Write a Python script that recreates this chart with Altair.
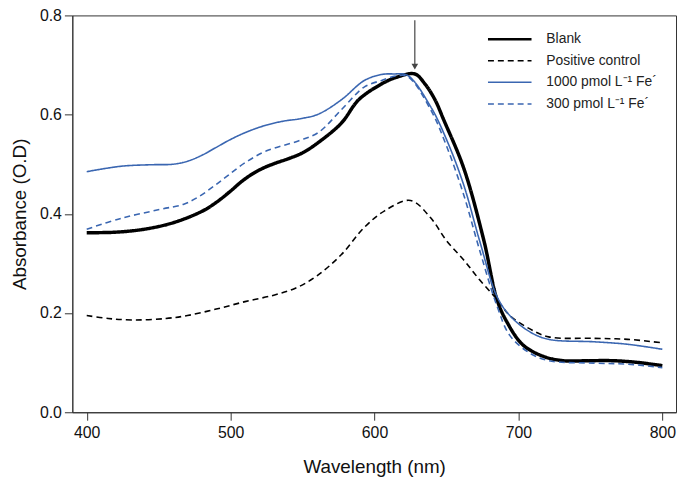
import altair as alt
import pandas as pd

series_names = ["Blank", "Positive control", "1000 pmol L⁻¹ Fe´", "300 pmol L⁻¹ Fe´"]
series_colors = ["#000000", "#000000", "#3a66b1", "#3a66b1"]

blank_wl = [400, 420, 440, 460, 480, 490, 500, 508, 516, 524, 532, 540, 550, 561, 577, 589, 605, 615, 628, 635, 642, 648, 662, 676, 685, 692, 703, 717, 731, 750, 765, 781, 800]
blank_abs = [0.362, 0.363, 0.369, 0.382, 0.405, 0.423, 0.446, 0.466, 0.482, 0.494, 0.503, 0.511, 0.523, 0.544, 0.583, 0.630, 0.662, 0.675, 0.682, 0.662, 0.630, 0.590, 0.492, 0.346, 0.228, 0.182, 0.136, 0.113, 0.104, 0.104, 0.104, 0.101, 0.094]

pos_wl = [400, 415, 433, 455, 470, 490, 510, 530, 545, 560, 577, 593, 607, 625, 639, 650, 662, 673, 685, 694, 708, 721, 753, 776, 800]
pos_abs = [0.195, 0.189, 0.186, 0.189, 0.195, 0.208, 0.223, 0.236, 0.250, 0.275, 0.318, 0.373, 0.406, 0.427, 0.392, 0.346, 0.307, 0.267, 0.228, 0.195, 0.168, 0.152, 0.149, 0.147, 0.140]

fe1000_wl = [400, 424, 445, 460, 470, 480, 490, 500, 512, 525, 537, 549, 561, 577, 593, 605, 613, 623, 639, 650, 662, 673, 685, 694, 708, 721, 753, 776, 800]
fe1000_abs = [0.485, 0.496, 0.499, 0.500, 0.506, 0.518, 0.534, 0.550, 0.566, 0.579, 0.587, 0.592, 0.601, 0.630, 0.669, 0.681, 0.682, 0.679, 0.616, 0.550, 0.458, 0.346, 0.234, 0.195, 0.162, 0.147, 0.142, 0.137, 0.127]

fe300_wl = [400, 424, 451, 467, 477, 488, 498, 510, 525, 547, 561, 577, 593, 605, 615, 623, 639, 650, 662, 673, 685, 694, 708, 721, 753, 776, 800]
fe300_abs = [0.369, 0.391, 0.409, 0.419, 0.433, 0.455, 0.477, 0.503, 0.527, 0.547, 0.564, 0.610, 0.656, 0.669, 0.678, 0.677, 0.610, 0.537, 0.438, 0.327, 0.215, 0.155, 0.119, 0.104, 0.099, 0.097, 0.090]

arrow_wl = [628]
arrow_top = [0.79]
arrow_tip = [0.697]

x_ticks = [400, 500, 600, 700, 800]
y_ticks = [0.0, 0.2, 0.4, 0.6, 0.8]

rows = []
for name, wls, vals in zip(series_names,
                           [blank_wl, pos_wl, fe1000_wl, fe300_wl],
                           [blank_abs, pos_abs, fe1000_abs, fe300_abs]):
    for w, a in zip(wls, vals):
        rows.append({"series": name, "wl": w, "abs": a})
df = pd.DataFrame(rows)

legend_df = pd.DataFrame({"series": series_names, "idx": list(range(len(series_names)))})
arrow_df = pd.DataFrame({"wl": arrow_wl, "top": arrow_top, "tip": arrow_tip})

FONT = "Liberation Sans"

color_scale = alt.Scale(domain=series_names, range=series_colors)
dash_scale = alt.Scale(type="ordinal", domain=series_names, range=[[1, 0], [6, 4], [1, 0], [6, 4]])
width_scale = alt.Scale(type="ordinal", domain=series_names, range=[3.5, 1.6, 1.6, 1.6])
leg_width_scale = alt.Scale(type="ordinal", domain=series_names, range=[2.6, 1.5, 1.5, 1.5])

xscale = alt.Scale(domain=[390, 809.5], nice=False, zero=False)
yscale = alt.Scale(domain=[0, 0.8], nice=False)

lines = alt.Chart(df).mark_line(interpolate="catmull-rom").encode(
    x=alt.X("wl:Q", scale=xscale,
            axis=alt.Axis(values=x_ticks, title="Wavelength (nm)", grid=False,
                          labelFontSize=16, titleFontSize=19, titlePadding=17,
                          tickSize=8, labelPadding=5, format="d")),
    y=alt.Y("abs:Q", scale=yscale,
            axis=alt.Axis(values=y_ticks, title="Absorbance (O.D)", grid=False,
                          labelFontSize=16, titleFontSize=19, titlePadding=10,
                          tickSize=8, labelPadding=3, format=".1f")),
    color=alt.Color("series:N", scale=color_scale, legend=None),
    strokeDash=alt.StrokeDash("series:N", scale=dash_scale, legend=None),
    strokeWidth=alt.StrokeWidth("series:N", scale=width_scale, legend=None),
    detail="series:N",
)

leg_rules = alt.Chart(legend_df).transform_calculate(
    ly="24 + 21.8 * datum.idx"
).mark_rule().encode(
    x=alt.value(420), x2=alt.value(464),
    y=alt.Y("ly:Q", scale=None, axis=None),
    color=alt.Color("series:N", scale=color_scale, legend=None),
    strokeDash=alt.StrokeDash("series:N", scale=dash_scale, legend=None),
    strokeWidth=alt.StrokeWidth("series:N", scale=leg_width_scale, legend=None),
)

leg_text = alt.Chart(legend_df).transform_calculate(
    ly="24 + 21.8 * datum.idx"
).mark_text(align="left", baseline="middle", fontSize=14, font=FONT, color="#222222").encode(
    x=alt.value(479),
    y=alt.Y("ly:Q", scale=None, axis=None),
    text="series:N",
)

arrow_rule = alt.Chart(arrow_df).mark_rule(color="#444444", strokeWidth=1.2).encode(
    x=alt.X("wl:Q", scale=xscale),
    y=alt.Y("top:Q", scale=yscale),
    y2="tip:Q",
)
arrow_head = alt.Chart(arrow_df).mark_point(shape="triangle-down", filled=True, size=45,
                                            color="#444444", opacity=1).encode(
    x=alt.X("wl:Q", scale=xscale),
    y=alt.Y("tip:Q", scale=yscale),
)

chart = alt.layer(lines, arrow_rule, arrow_head, leg_rules, leg_text).resolve_scale(
    strokeWidth="independent"
).properties(
    width=610, height=401,
    autosize=alt.AutoSizeParams(type="none"),
    padding={"left": 65, "top": 5, "right": 1, "bottom": 70},
).configure_view(
    stroke="#333333", strokeWidth=1
).configure_axis(
    domainColor="#333333", tickColor="#333333", labelColor="#111111", titleColor="#111111",
    labelFont=FONT, titleFont=FONT, titleFontWeight="normal", domainWidth=1
)

chart.save("out.html", embed_options={"renderer": "svg", "actions": False})
